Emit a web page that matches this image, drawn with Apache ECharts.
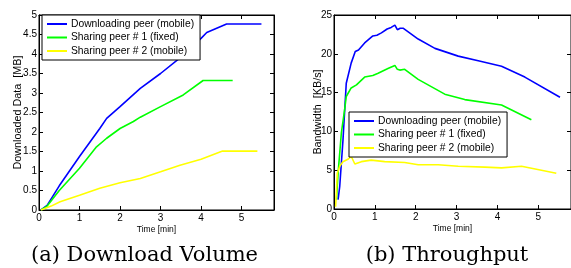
<!DOCTYPE html>
<html><head><meta charset="utf-8">
<script src="https://cdn.jsdelivr.net/npm/echarts@6/dist/echarts.min.js"></script>
<style>html,body{margin:0;padding:0;background:#fff;}#c{width:571px;height:268px;}</style>
</head><body><div id="c"></div>
<script>
// ---- Data: (a) Download Volume [MB] vs Time [min]
var seriesNames = ['Downloading peer (mobile)', 'Sharing peer # 1 (fixed)', 'Sharing peer # 2 (mobile)'];
var volDlTime = [0.05,0.2,0.5,1.0,1.5,1.67,2.0,2.5,3.0,3.48,4.0,4.14,4.63,5.49];
var volDlVal  = [0,0.12,0.62,1.37,2.09,2.35,2.65,3.12,3.5,3.9,4.4,4.55,4.77,4.77];
var volS1Time = [0.05,0.2,0.5,1.0,1.42,1.67,2.0,2.33,2.5,3.0,3.56,4.05,4.78];
var volS1Val  = [0,0.1,0.5,1.07,1.62,1.84,2.09,2.27,2.38,2.65,2.95,3.32,3.32];
var volS2Time = [0.05,0.3,0.52,1.0,1.5,2.0,2.5,3.0,3.48,4.0,4.53,5.39];
var volS2Val  = [0,0.1,0.21,0.38,0.56,0.7,0.81,0.98,1.15,1.3,1.51,1.51];
// ---- Data: (b) Throughput [KB/s] vs Time [min]
var bwDlTime = [0.1,0.14,0.22,0.3,0.42,0.52,0.6,0.75,0.95,1.05,1.16,1.3,1.4,1.49,1.55,1.62,1.69,2.06,2.47,3.04,3.53,4.1,4.67,5.53];
var bwDlVal  = [1.2,2.9,8.9,16.2,18.8,20.3,20.5,21.4,22.3,22.4,22.7,23.2,23.4,23.7,23.1,23.3,23.3,21.9,20.7,19.7,19.1,18.4,17.0,14.4];
var bwS1Time = [0.06,0.1,0.18,0.26,0.3,0.42,0.55,0.75,0.95,1.08,1.32,1.49,1.55,1.61,1.73,2.06,2.71,3.2,4.1,4.83];
var bwS1Val  = [1.2,4.6,9.8,12.8,14.5,15.6,16.0,17.0,17.2,17.5,18.1,18.5,18.0,17.9,18.0,16.7,14.8,14.1,13.4,11.5];
var bwS2Time = [0.04,0.08,0.14,0.22,0.34,0.42,0.51,0.67,0.91,1.24,1.73,2.06,2.55,3.04,3.69,4.1,4.59,5.44];
var bwS2Val  = [0.3,4.6,5.5,6.1,6.4,6.8,5.8,6.1,6.3,6.1,6.0,5.7,5.7,5.5,5.4,5.3,5.5,4.6];
var xTicks = [0,1,2,3,4,5];
var captions = ['(a) Download Volume', '(b) Throughput'];

function pairs(t, v){ return t.map(function(x,i){return [x, v[i]];}); }
var colors = ['#0000ff', '#00ff00', '#ffff00'];
var FONT = 'Liberation Sans';

function xAx(gi, top){
  return {type:'value', gridIndex:gi, min:0, max:5.8, interval:1, position: top?'top':'bottom',
    axisLine:{show:true, onZero:false, lineStyle:{color:'#000', width:1}},
    axisTick:{show:true, inside:true, length:4, lineStyle:{color:'#000'}},
    axisLabel:{show:!top, color:'#000', fontFamily:FONT, fontSize:10, margin:3, showMaxLabel:false,
      formatter:function(v){ return xTicks.indexOf(v)>=0 ? String(v) : ''; }},
    splitLine:{show:false},
    name: top ? '' : 'Time [min]', nameLocation:'middle', nameGap:15, nameMoveOverlap:false,
    nameTextStyle:{color:'#000', fontFamily:FONT, fontSize:8.5}};
}
function yAx(gi, right, max, interval, name, gap){
  return {type:'value', gridIndex:gi, min:0, max:max, interval:interval, position: right?'right':'left',
    axisLine:{show:true, onZero:false, lineStyle:{color:'#000', width:1}},
    axisTick:{show:true, inside:true, length:4, lineStyle:{color:'#000'}},
    axisLabel:{show:!right, color:'#000', fontFamily:FONT, fontSize:10, margin:2},
    splitLine:{show:false},
    name: right ? '' : name, nameLocation:'middle', nameGap:gap || 10, nameMoveOverlap:false,
    nameTextStyle:{color:'#000', fontFamily:FONT, fontSize:10.8}};
}
function line(name, data, ci, xi, yi){
  return {type:'line', name:name, data:data, xAxisIndex:xi, yAxisIndex:yi, symbol:'none',
    lineStyle:{color:colors[ci], width:1.6}, itemStyle:{color:colors[ci]}, animation:false};
}
function dummy(xi, yi){
  return {type:'line', data:[], xAxisIndex:xi, yAxisIndex:yi, symbol:'none', silent:true};
}
function legend(left, top){
  return {show:true, left:left, top:top, orient:'vertical', backgroundColor:'#fff',
    borderColor:'#000', borderWidth:1, padding:[3,6,3,5], itemGap:1.5,
    icon:'rect', itemWidth:20, itemHeight:2,
    textStyle:{color:'#000', fontFamily:FONT, fontSize:10.3, lineHeight:12, padding:[0,0,0,-1]},
    data:seriesNames};
}

var chart = echarts.init(document.getElementById('c'), null, {renderer:'canvas'});
chart.setOption({
  backgroundColor:'#fff',
  animation:false,
  grid:[
    {left:39, top:15, width:235, height:195, show:true, borderColor:'#000', borderWidth:1, backgroundColor:'transparent'},
    {left:334, top:15, width:238, height:194, show:true, borderColor:'#000', borderWidth:1, backgroundColor:'transparent'}
  ],
  xAxis:[xAx(0,false), xAx(1,false), xAx(0,true), xAx(1,true)],
  yAxis:[yAx(0,false,5,0.5,'Downloaded Data  [MB]',15), yAx(1,false,25,5,'Bandwidth  [KB/s]',10),
         yAx(0,true,5,0.5,''), yAx(1,true,25,5,'')],
  legend:[legend(42, 15), legend(349, 112)],
  series:[
    line(seriesNames[0], pairs(volDlTime, volDlVal), 0, 0, 0),
    line(seriesNames[1], pairs(volS1Time, volS1Val), 1, 0, 0),
    line(seriesNames[2], pairs(volS2Time, volS2Val), 2, 0, 0),
    line(seriesNames[0], pairs(bwDlTime, bwDlVal), 0, 1, 1),
    line(seriesNames[1], pairs(bwS1Time, bwS1Val), 1, 1, 1),
    line(seriesNames[2], pairs(bwS2Time, bwS2Val), 2, 1, 1),
    dummy(2, 2), dummy(3, 3)
  ],
  graphic:[
    {type:'text', style:{text:captions[0], x:144.5, y:256, align:'center', verticalAlign:'middle',
      font:'21px "DejaVu Serif"', fill:'#000'}},
    {type:'text', style:{text:captions[1], x:447, y:256, align:'center', verticalAlign:'middle',
      font:'21px "DejaVu Serif"', fill:'#000'}}
  ]
});
</script></body></html>
